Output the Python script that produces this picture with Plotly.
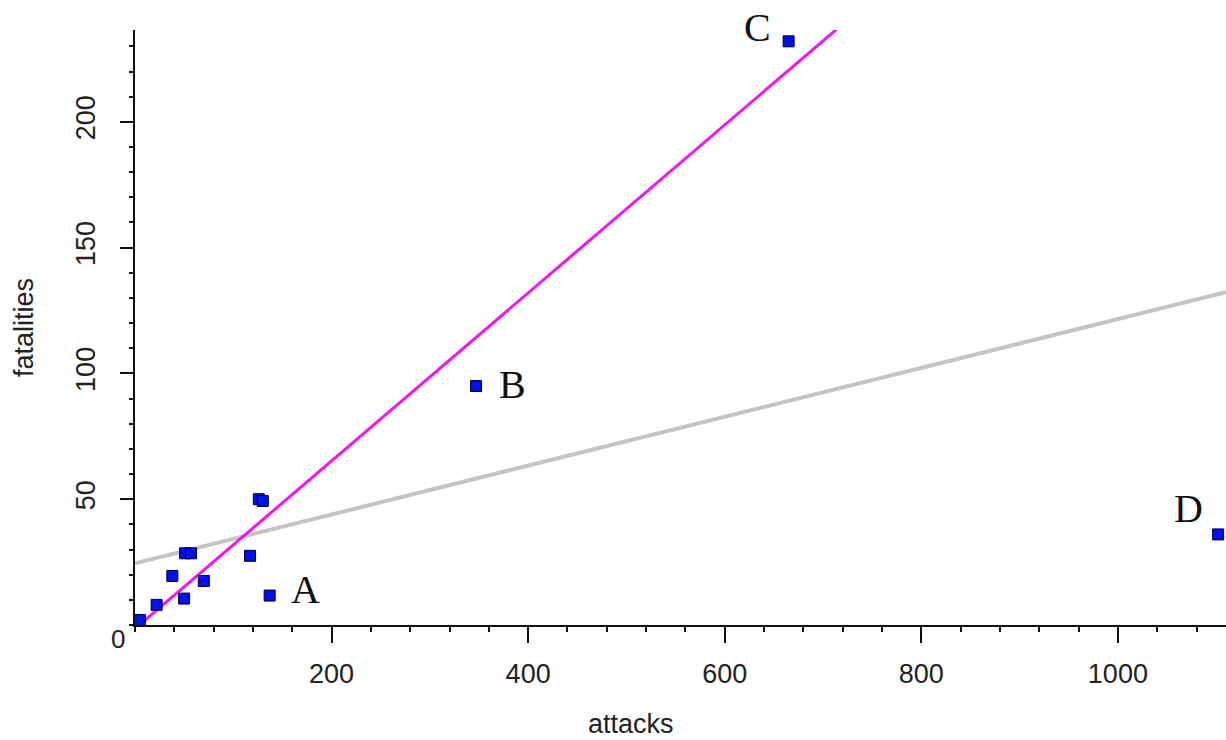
import plotly.graph_objects as go

# ---- data ----
attacks = [5, 22, 38, 50, 51, 57, 70, 117, 126, 130, 137, 347, 665, 1102]
fatalities = [2, 8, 19.5, 10.5, 28.5, 28.5, 17.5, 27.5, 50, 49.3, 11.7, 95, 232, 36]

labels = ["A", "B", "C", "D"]
label_x = [137, 347, 665, 1102]
label_y = [11.7, 95, 232, 36]

# fitted lines (endpoints)
fit1_x = [8.5, 716]
fit1_y = [1.3, 237.5]
fit2_x = [0, 1110]
fit2_y = [24.5, 132.3]

x_ticks = [200, 400, 600, 800, 1000]
y_ticks = [50, 100, 150, 200]

fig = go.Figure()
fig.add_trace(go.Scatter(x=fit2_x, y=fit2_y, mode="lines",
                         line=dict(color="#c4c4c4", width=4), hoverinfo="skip",
                         showlegend=False))
fig.add_trace(go.Scatter(x=fit1_x, y=fit1_y, mode="lines",
                         line=dict(color="#f016f0", width=3), hoverinfo="skip",
                         showlegend=False, cliponaxis=False))
fig.add_trace(go.Scatter(x=attacks, y=fatalities, mode="markers",
                         marker=dict(symbol="square", size=11, color="#0010e8",
                                     line=dict(color="#000033", width=1)),
                         showlegend=False, cliponaxis=False))

offsets = [(36, -6), (36, -1), (-31, -14), (-30, -26)]
for t, x, y, (dx, dy) in zip(labels, label_x, label_y, offsets):
    fig.add_annotation(x=x, y=y, text=t, showarrow=True, arrowcolor="rgba(0,0,0,0)",
                       ax=dx, ay=dy, xanchor="center", yanchor="middle",
                       font=dict(family="Liberation Serif", size=40, color="#111"))

fig.add_annotation(x=0, y=0, xref="x", yref="y", text="0", showarrow=False,
                   xshift=-17, yshift=-14, xanchor="center", yanchor="middle",
                   font=dict(family="Liberation Sans", size=26, color="#222"))

# x-axis title (sits left of centre in the reference)
fig.add_annotation(x=505, y=0, xref="x", yref="paper", text="attacks",
                   showarrow=False, yshift=-99, xanchor="center", yanchor="middle",
                   font=dict(family="Liberation Sans", size=27, color="#222"))

minor_x = [v for v in range(0, 1111, 40) if v % 200 != 0 or v == 0]
minor_y = [v for v in range(0, 237, 10) if v % 50 != 0 or v == 0]

fig.update_layout(
    width=1226, height=740,
    margin=dict(l=135, r=0, t=30, b=115, autoexpand=False),
    paper_bgcolor="white", plot_bgcolor="white",
    font=dict(family="Liberation Sans", color="#222"),
    xaxis=dict(range=[0, 1110], showgrid=False, zeroline=False, automargin=False,
               showline=True, linecolor="#111", linewidth=1.5,
               tickmode="array", tickvals=x_ticks, ticks="outside",
               ticklen=16, tickwidth=1.5, tickcolor="#111",
               tickfont=dict(size=27), ticklabelstandoff=8,
               minor=dict(tickvals=minor_x, ticks="outside", ticklen=5,
                          tickwidth=1.5, tickcolor="#111")),
    yaxis=dict(range=[0, 236.5], showgrid=False, zeroline=False, automargin=False,
               showline=True, linecolor="#111", linewidth=1.5,
               tickmode="array", tickvals=y_ticks, ticks="outside",
               ticklen=13, tickwidth=1.5, tickcolor="#111",
               tickangle=-90, tickfont=dict(size=27), ticklabelstandoff=14,
               minor=dict(tickvals=minor_y, ticks="outside", ticklen=4,
                          tickwidth=1.5, tickcolor="#111"),
               title=dict(text="fatalities", font=dict(size=27), standoff=30)),
)

fig.write_html(
    "out.html",
    config={"displayModeBar": False},
    post_script="document.body.style.margin='0';document.body.style.overflow='hidden';",
)
